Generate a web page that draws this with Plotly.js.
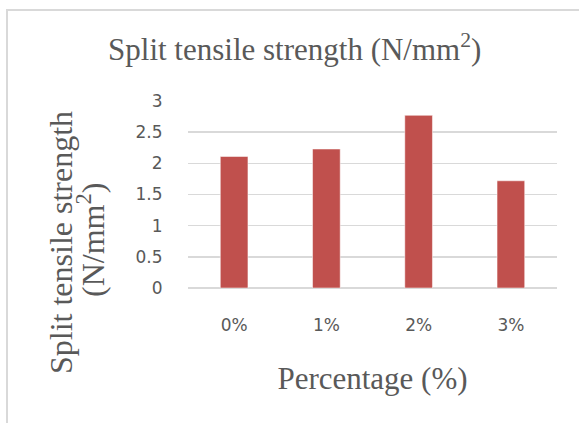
<!DOCTYPE html>
<html>
<head>
<meta charset="utf-8">
<script src="https://cdn.plot.ly/plotly-3.0.1.min.js"></script>
<style>
  html, body { margin: 0; padding: 0; background: #ffffff; }
  #wrap { position: relative; width: 579px; height: 423px; overflow: hidden; }
  #chart { width: 579px; height: 423px; }
  #frame { position: absolute; left: 6px; top: 9px; width: 700px; height: 500px;
           border-left: 2.5px solid #d9d9d9; border-top: 2.5px solid #d9d9d9;
           pointer-events: none; box-sizing: border-box; }
</style>
</head>
<body>
<div id="wrap">
  <div id="chart"></div>
  <div id="frame"></div>
</div>
<script>
const categories = ["0%", "1%", "2%", "3%"];
const strengthValues = [2.11, 2.23, 2.77, 1.72];
const yTickValues = [0, 0.5, 1, 1.5, 2, 2.5, 3];
const yTickLabels = ["0", "0.5", "1", "1.5", "2", "2.5", "3"];

const grey = "#595959";
const serif = "Liberation Serif, Times New Roman, serif";
const sans = "DejaVu Sans, Arial, sans-serif";

const trace = {
  type: "bar",
  x: categories,
  y: strengthValues,
  marker: { color: "#C0504D", line: { color: "rgba(255,255,255,0.5)", width: 1 } },
  hoverinfo: "x+y"
};

const layout = {
  width: 579,
  height: 423,
  margin: { l: 188, r: 22, t: 101, b: 135, pad: 0 },
  paper_bgcolor: "#ffffff",
  plot_bgcolor: "#ffffff",
  showlegend: false,
  bargap: 0.7,
  title: {
    text: "Split tensile strength (N/mm<sup>2</sup>)",
    font: { family: serif, size: 31, color: grey },
    x: 0.509, xref: "container", xanchor: "center",
    y: 0.884, yref: "container", yanchor: "middle"
  },
  xaxis: {
    type: "category",
    tickfont: { family: sans, size: 17, color: grey },
    ticks: "outside", ticklen: 22, tickcolor: "rgba(0,0,0,0)",
    showline: false, showgrid: false, zeroline: false,
    title: { text: "Percentage (%)", font: { family: serif, size: 31, color: grey }, standoff: 32 }
  },
  yaxis: {
    range: [0, 3],
    tickvals: yTickValues,
    ticktext: yTickLabels,
    tickfont: { family: sans, size: 17, color: grey },
    ticks: "outside", ticklen: 21, tickcolor: "rgba(0,0,0,0)",
    showgrid: true, gridcolor: "#d9d9d9", gridwidth: 1.5,
    zeroline: true, zerolinecolor: "#d9d9d9", zerolinewidth: 1.5,
    showline: false,
    title: { text: "" }
  },
  annotations: [
    {
      text: "Split tensile strength",
      xref: "paper", yref: "paper",
      x: (61 - 188) / 369, y: (288 - 243) / 187,
      xanchor: "center", yanchor: "middle",
      textangle: -90, showarrow: false,
      font: { family: serif, size: 32, color: grey }
    },
    {
      text: "(N/mm<sup>2</sup>)",
      xref: "paper", yref: "paper",
      x: (91 - 188) / 369, y: (288 - 240) / 187,
      xanchor: "center", yanchor: "middle",
      textangle: -90, showarrow: false,
      font: { family: serif, size: 32, color: grey }
    }
  ]
};

Plotly.newPlot("chart", [trace], layout, { displayModeBar: false, staticPlot: true });
</script>
</body>
</html>
